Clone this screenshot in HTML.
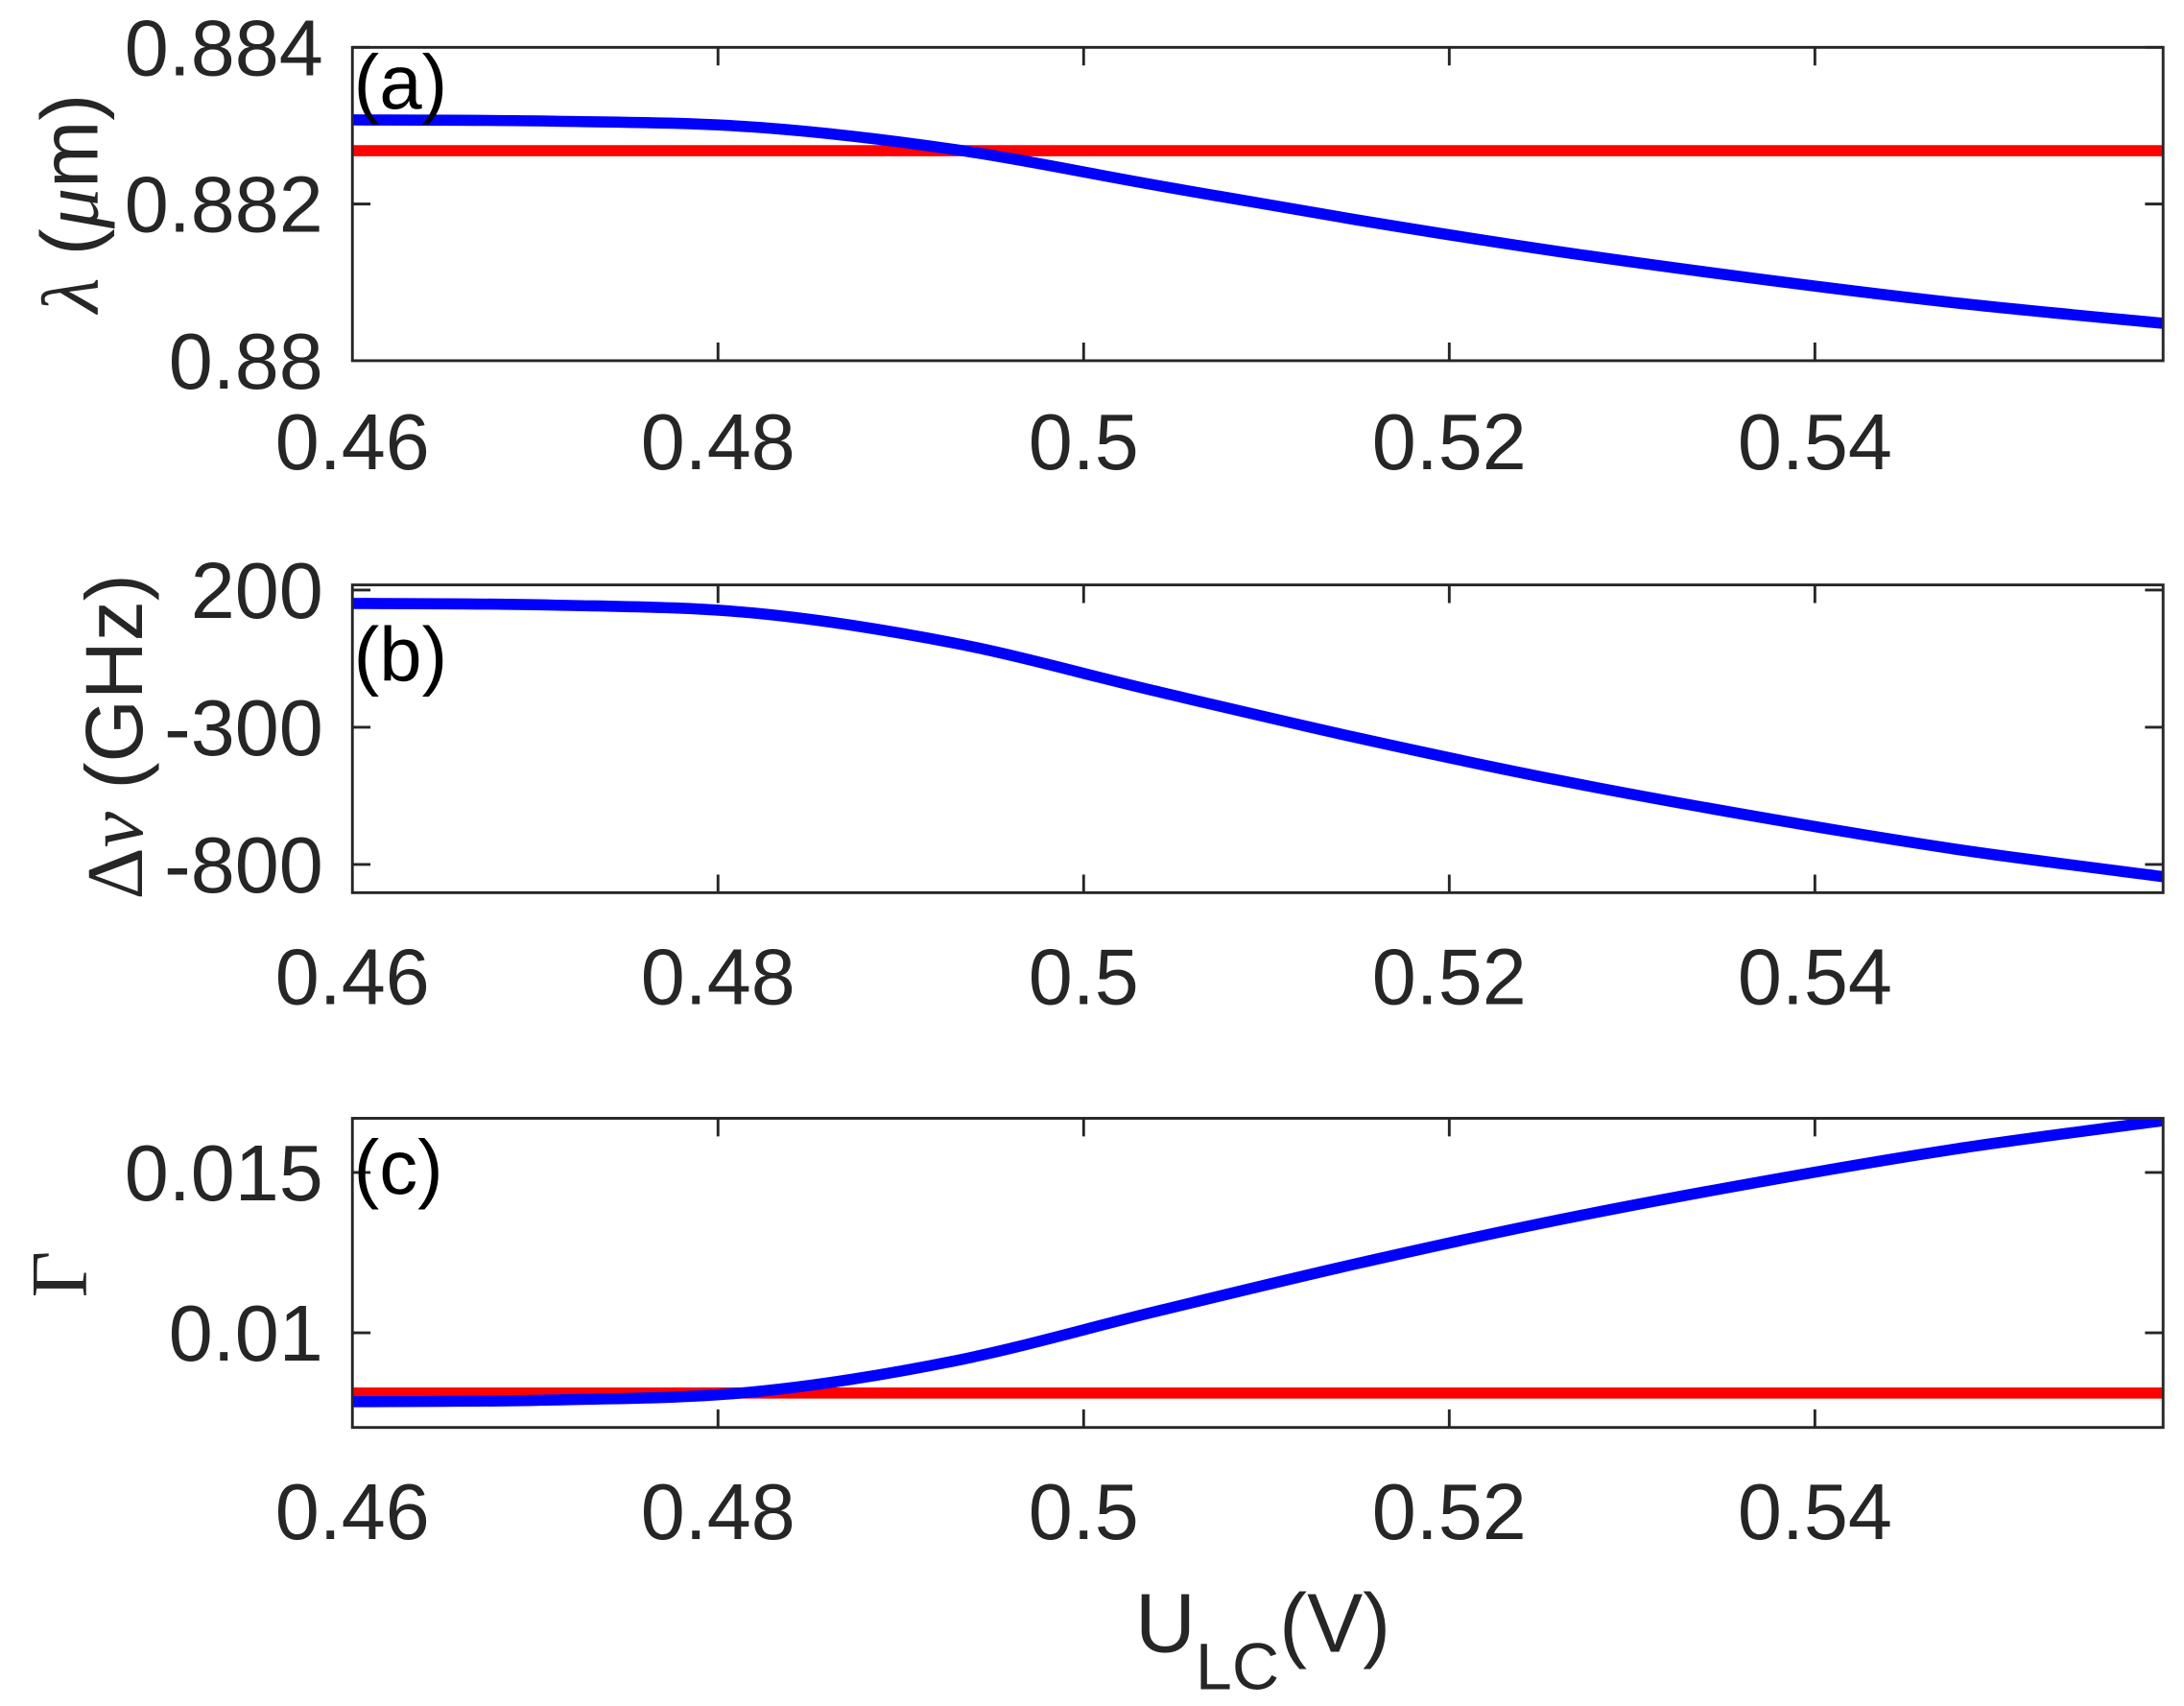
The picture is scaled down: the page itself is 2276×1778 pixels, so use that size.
<!DOCTYPE html>
<html><head><meta charset="utf-8"><style>
html,body{margin:0;padding:0;background:#fff;}
svg{display:block;}
text{font-family:"Liberation Sans",Arial,sans-serif;fill:#262626;}
</style></head><body>
<svg id="sv" width="2276" height="1778" viewBox="0 0 1568 1225" preserveAspectRatio="none" xmlns="http://www.w3.org/2000/svg">
<defs>
<clipPath id="ca"><rect x="253" y="34" width="1300" height="225"/></clipPath>
<clipPath id="cb"><rect x="253" y="420" width="1300" height="221"/></clipPath>
<clipPath id="cc"><rect x="253" y="803" width="1300" height="222"/></clipPath>
</defs>
<polyline clip-path="url(#ca)" fill="none" stroke="#ff0000" stroke-width="8" points="253,108.2 1553,108.2"/>
<polyline clip-path="url(#cc)" fill="none" stroke="#ff0000" stroke-width="8" points="253,1000.3 1553,1000.3"/>
<path id="pa" clip-path="url(#ca)" fill="none" stroke="#0000ff" stroke-width="8" d=""/>
<path id="pb" clip-path="url(#cb)" fill="none" stroke="#0000ff" stroke-width="8" d=""/>
<path id="pc" clip-path="url(#cc)" fill="none" stroke="#0000ff" stroke-width="8" d=""/>
<g fill="none" stroke="#262626" stroke-width="2">
<rect x="253" y="34" width="1300" height="225"/>
<rect x="253" y="420" width="1300" height="221"/>
<rect x="253" y="803" width="1300" height="222"/>
<path d="M515.5,34v13M778,34v13M1040.5,34v13M1303,34v13M515.5,259v-13M778,259v-13M1040.5,259v-13M1303,259v-13
M253,146.5h13M1553,146.5h-13M253,34h13M1553,34h-13
M515.5,420v13M778,420v13M1040.5,420v13M1303,420v13M515.5,641v-13M778,641v-13M1040.5,641v-13M1303,641v-13
M253,423.7h13M1553,423.7h-13M253,522.2h13M1553,522.2h-13M253,620.7h13M1553,620.7h-13
M515.5,803v13M778,803v13M1040.5,803v13M1303,803v13M515.5,1025v-13M778,1025v-13M1040.5,1025v-13M1303,1025v-13
M253,841.9h13M1553,841.9h-13M253,957h13M1553,957h-13"/>
</g>
<g font-size="57" text-anchor="middle">
<text x="253" y="337">0.46</text><text x="515.5" y="337">0.48</text><text x="778" y="337">0.5</text><text x="1040.5" y="337">0.52</text><text x="1303" y="337">0.54</text>
<text x="253" y="721">0.46</text><text x="515.5" y="721">0.48</text><text x="778" y="721">0.5</text><text x="1040.5" y="721">0.52</text><text x="1303" y="721">0.54</text>
<text x="253" y="1105">0.46</text><text x="515.5" y="1105">0.48</text><text x="778" y="1105">0.5</text><text x="1040.5" y="1105">0.52</text><text x="1303" y="1105">0.54</text>
</g>
<g font-size="57" text-anchor="end">
<text x="232" y="54">0.884</text><text x="232" y="166.5">0.882</text><text x="232" y="279">0.88</text>
<text x="232" y="443.7">200</text><text x="232" y="542.2">-300</text><text x="232" y="640.7">-800</text>
<text x="232" y="861.9">0.015</text><text x="232" y="977">0.01</text>
</g>
<g font-size="55">
<text x="254" y="78" style="fill:#000">(a)</text>
<text x="254" y="489" style="fill:#000">(b)</text>
<text x="254" y="857" style="fill:#000">(c)</text>
</g>
<text transform="translate(70,146) rotate(-90)" font-size="58" text-anchor="middle"><tspan font-style="italic" font-family="Liberation Serif">λ</tspan> (<tspan font-style="italic" font-family="Liberation Serif">μ</tspan>m)</text>
<text transform="translate(102,529) rotate(-90)" font-size="58" text-anchor="middle"><tspan font-family="Liberation Serif">Δ</tspan><tspan font-style="italic" font-family="Liberation Serif">ν</tspan> (GHz)</text>
<text transform="translate(62,915) rotate(-90)" font-size="58" text-anchor="middle" style="font-family:'Liberation Serif',serif">Γ</text>
<text x="815" y="1186" font-size="60">U<tspan font-size="47" dy="27">LC</tspan><tspan dy="-27">(V)</tspan></text>
</svg>
<script>
(function(){
 var K=[[253,0],[397,0.006],[541,0.035],[685,0.145],[829,0.32],[973,0.49],[1117,0.645],[1261,0.78],[1405,0.9],[1553,1]];
 function mk(y0,y1){
  var p=K.map(function(k){return [k[0],y0+(y1-y0)*k[1]];});
  var d='M'+p[0][0]+','+p[0][1].toFixed(2);
  for(var i=0;i<p.length-1;i++){
   var p0=p[Math.max(0,i-1)],p1=p[i],p2=p[i+1],p3=p[Math.min(p.length-1,i+2)];
   d+=' C'+(p1[0]+(p2[0]-p0[0])/6).toFixed(2)+','+(p1[1]+(p2[1]-p0[1])/6).toFixed(2)+' '+(p2[0]-(p3[0]-p1[0])/6).toFixed(2)+','+(p2[1]-(p3[1]-p1[1])/6).toFixed(2)+' '+p2[0]+','+p2[1].toFixed(2);
  }
  return d;
 }
 document.getElementById('pa').setAttribute('d',mk(86.1,232.2));
 document.getElementById('pb').setAttribute('d',mk(433.3,629.5));
 document.getElementById('pc').setAttribute('d',mk(1006.5,804.7));
})();
</script>
</body></html>
